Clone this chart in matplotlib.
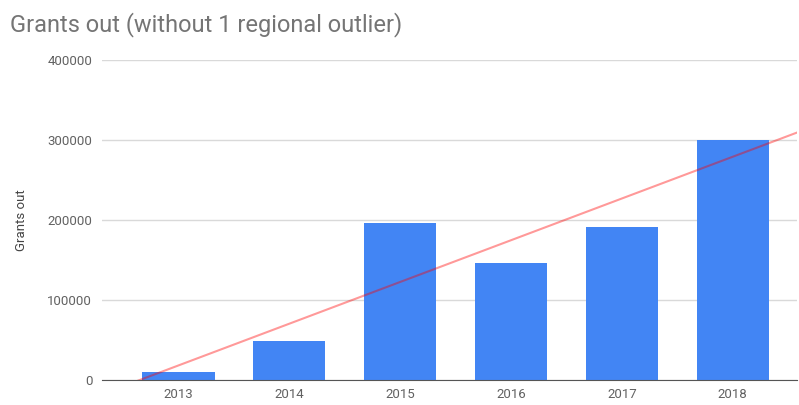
import matplotlib
matplotlib.use("Agg")
import matplotlib.pyplot as plt
import numpy as np

years=["2013","2014","2015","2016","2017","2018"]
grants=[10400,48400,196000,146000,191000,300000]
yticks=[0,100000,200000,300000,400000]

plt.rcParams["font.family"]=["Roboto","DejaVu Sans"]
fig=plt.figure(figsize=(7.99,4.05),dpi=100)
ax=fig.add_axes([102/799,1-380/405,695/799,320/405])
x=np.arange(len(years))
ax.bar(x,grants,width=0.65,color="#4285f4",zorder=2)
slope,icpt=np.polyfit(x,grants,1)
xl=(-0.69,5.58);tx=np.array(xl)
ax.plot(tx,slope*tx+icpt,color="#ff0000",alpha=0.4,lw=1.5,zorder=3)
ax.set_xlim(*xl);ax.set_ylim(0,400000)
ax.set_xticks(x,years);ax.set_yticks(yticks,[str(v) for v in yticks])
ax.grid(axis="y",color="#d9d9d9",lw=1,zorder=0)
for s in ["top","right","left"]:ax.spines[s].set_visible(False)
ax.spines["bottom"].set_color("#555555");ax.spines["bottom"].set_zorder(4)
ax.tick_params(length=0,colors="#616161",labelsize=9.5)
ax.tick_params(axis="y",pad=7);ax.tick_params(axis="x",pad=6)
ax.set_ylabel("Grants out",color="#444444",fontsize=9.5,labelpad=14)
fig.text(10/799,1-31/405,"Grants out (without 1 regional outlier)",color="#757575",fontsize=17)
fig.savefig("out.png",dpi=100)
